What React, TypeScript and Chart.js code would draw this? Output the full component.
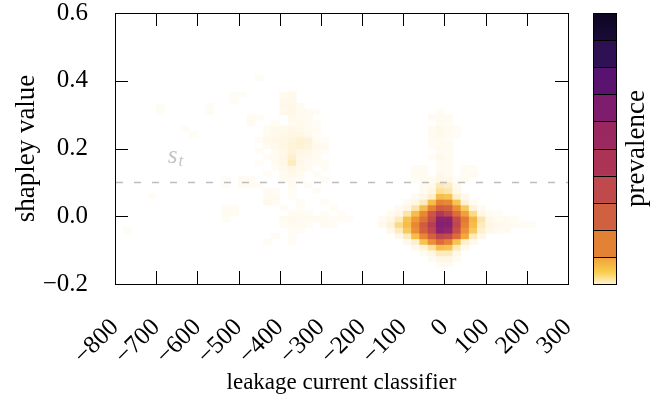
import React, { useEffect, useRef } from "react";
import { Chart, registerables } from "chart.js";

Chart.register(...registerables);

// Axis ranges and tick steps
const X_MIN = -800;
const X_MAX = 300;
const X_STEP = 100;
const Y_MIN = -0.2;
const Y_MAX = 0.6;
const Y_STEP = 0.2;

// 2-D histogram binning: classifier output in bins of 20, shapley value in bins of 1/60
const BIN_W = 20;
const BIN_H = 1 / 60;

// decision threshold on the shapley value
const THRESHOLD = 0.1;
const THRESHOLD_LABEL_AT = [-672, 0.157];

// Histogram rows: [row index (from Y_MIN), left edge of first bin, prevalence per bin]
const coreRows: [number, number, number[]][] = [
  [3, -20, [3, 3]],
  [4, -40, [3, 6, 6, 3]],
  [5, -60, [3, 6, 12, 12, 5]],
  [6, -80, [4, 8, 16, 28, 26, 12, 4]],
  [7, -100, [4, 10, 26, 40, 50, 44, 26, 10, 4]],
  [8, -120, [5, 12, 28, 42, 54, 64, 62, 50, 34, 12, 5]],
  [9, -140, [5, 12, 24, 40, 54, 64, 80, 78, 60, 40, 24, 10, 5, 3, 3]],
  [10, -160, [4, 8, 18, 28, 42, 56, 68, 82, 81, 64, 44, 28, 12, 6, 4, 3, 3, 2, 2]],
  [11, -160, [3, 6, 12, 26, 38, 48, 62, 80, 80, 62, 46, 30, 14, 5, 3, 3, 2]],
  [12, -140, [3, 6, 14, 28, 42, 58, 70, 64, 50, 36, 18, 6, 3, 2]],
  [13, -120, [3, 6, 14, 28, 44, 56, 54, 40, 24, 8, 3]],
  [14, -100, [3, 6, 12, 28, 44, 42, 26, 8, 3]],
  [15, -80, [3, 5, 10, 28, 26, 10, 4]],
  [16, -60, [3, 6, 16, 14, 5]],
  [17, -60, [3, 4, 13, 11, 4]],
  [18, -80, [2, 3, 3, 6, 5, 2, 3]],
  [19, -80, [3, 3, 0, 4, 3, 0, 2, 3]],
  [20, -80, [2, 3, 0, 3, 3, 0, 3, 2]],
  [21, -40, [0, 3, 3]],
  [22, -40, [2, 4, 3]],
  [23, -20, [3, 2]],
  [24, -40, [2, 3, 3]],
  [25, -40, [3, 3, 2]],
  [26, -40, [3, 4, 3, 2]],
  [27, -40, [3, 4, 3, 2]],
  [28, -20, [3, 2]],
  [29, -40, [3, 3, 3]],
  [30, -20, [2]],
];

const sideRows: [number, number, number[]][] = [
  [7, -440, [2, 0, 0, 2]],
  [8, -420, [2, 0, 2]],
  [9, -780, [2]],
  [9, -380, [2, 2]],
  [10, -400, [2, 3, 3, 2, 0, 3, 2]],
  [11, -540, [2, 0, 0, 0, 0, 0, 0, 3, 4, 3, 3, 3, 3, 2, 2, 2]],
  [12, -540, [3, 3, 0, 0, 0, 0, 0, 0, 3, 3, 2, 0, 2, 0, 2]],
  [13, -540, [2, 3, 0, 0, 0, 0, 0, 2, 0, 2, 0, 0, 0, 2]],
  [14, -440, [4, 3, 0, 0, 2, 0, 0, 2]],
  [15, -720, [2]],
  [15, -440, [3, 3, 0, 2]],
  [16, -440, [3, 2, 0, 2, 0, 0, 2]],
  [17, -540, [2, 0, 3, 3, 2, 0, 0, 0, 3, 0, 2]],
  [18, -540, [2, 0, 3, 3, 0, 0, 0, 3, 3, 2, 0, 0, 2]],
  [19, -440, [2, 0, 3, 4, 3, 0, 2]],
  [20, -420, [2, 4, 6, 4, 3, 0, 2]],
  [21, -460, [2, 0, 3, 5, 12, 5, 3, 2, 2]],
  [22, -440, [2, 3, 6, 10, 5, 4, 3]],
  [23, -460, [2, 0, 3, 5, 8, 6, 5, 3, 2]],
  [24, -440, [3, 4, 6, 8, 9, 7, 4, 3]],
  [25, -460, [2, 4, 5, 6, 7, 9, 8, 3, 2]],
  [26, -620, [2, 0, 0, 0, 0, 0, 0, 0, 0, 3, 4, 5, 6, 6, 4, 2]],
  [27, -640, [2, 0, 0, 0, 0, 0, 0, 0, 0, 0, 3, 4, 4, 5, 4, 3, 3]],
  [28, -480, [3, 0, 0, 2, 0, 3, 4, 3, 2]],
  [29, -480, [3, 2, 0, 0, 0, 4, 3, 3]],
  [30, -700, [2, 0, 0, 0, 0, 0, 2, 0, 0, 0, 0, 0, 0, 0, 0, 4, 5, 3, 3, 2]],
  [31, -700, [2, 0, 0, 0, 0, 0, 2, 0, 0, 0, 0, 0, 0, 0, 0, 5, 5, 3]],
  [32, -520, [2, 0, 0, 0, 0, 0, 4, 4]],
  [33, -520, [2, 2, 0, 0, 0, 0, 3, 4]],
  [36, -460, [2]],
];

// Reversed "inferno"-like ramp used for prevalence (0..100)
const RAMP: [number, number[]][] = [
  [0, [255, 255, 255]],
  [2, [255, 252, 246]],
  [4, [255, 249, 236]],
  [8, [254, 243, 218]],
  [12, [253, 235, 192]],
  [18, [251, 218, 135]],
  [26, [247, 196, 80]],
  [34, [242, 168, 58]],
  [42, [233, 136, 52]],
  [50, [220, 108, 56]],
  [58, [204, 86, 65]],
  [66, [186, 66, 80]],
  [74, [164, 48, 96]],
  [80, [140, 33, 110]],
  [88, [110, 25, 112]],
  [94, [70, 16, 104]],
  [100, [12, 8, 38]],
];

// Colour bar bands, top to bottom: [top colour, bottom colour]
const COLORBAR_BANDS: [string, string][] = [
  ["#0a0620", "#1a0c38"],
  ["#2c1050", "#301255"],
  ["#57136f", "#5a1470"],
  ["#7c1c6d", "#801d6d"],
  ["#98285f", "#9a2960"],
  ["#aa3357", "#ac3456"],
  ["#bf494c", "#c04a4b"],
  ["#cf6040", "#d0613f"],
  ["#e28034", "#e38234"],
  ["#efa03a", "#fff4cc"],
];

const FONT = "'Liberation Serif', 'Times New Roman', serif";
const TICK_FONT_SIZE = 25;
const X_TITLE_FONT_SIZE = 23;
const Y_TITLE_FONT_SIZE = 27;

function rampColor(v: number): string {
  const t = Math.max(0, Math.min(100, v));
  for (let i = 1; i < RAMP.length; i++) {
    const [v1, c1] = RAMP[i];
    const [v0, c0] = RAMP[i - 1];
    if (t <= v1) {
      const f = (t - v0) / (v1 - v0);
      const c = c0.map((a, k) => Math.round(a + (c1[k] - a) * f));
      return `rgb(${c[0]},${c[1]},${c[2]})`;
    }
  }
  return "rgb(12,8,38)";
}

function minusFormat(v: number, digits: number): string {
  const s = Math.abs(v).toFixed(digits);
  return v < -1e-9 ? "\u2212" + s : s;
}

const TICK_LEN = 13;

const framePlugin = {
  id: "frameTicks",
  afterDraw(chart: any) {
    const { ctx, chartArea: a, scales } = chart;
    const x = scales.x;
    const y = scales.y;
    ctx.save();
    ctx.strokeStyle = "#000";
    ctx.lineWidth = 1;
    ctx.beginPath();
    for (const t of x.ticks) {
      const px = Math.round(x.getPixelForValue(t.value)) + 0.5;
      ctx.moveTo(px, a.bottom);
      ctx.lineTo(px, a.bottom - TICK_LEN);
      ctx.moveTo(px, a.top);
      ctx.lineTo(px, a.top + TICK_LEN);
    }
    for (const t of y.ticks) {
      const py = Math.round(y.getPixelForValue(t.value)) + 0.5;
      ctx.moveTo(a.left, py);
      ctx.lineTo(a.left + TICK_LEN, py);
      ctx.moveTo(a.right, py);
      ctx.lineTo(a.right - TICK_LEN, py);
    }
    ctx.stroke();
    ctx.strokeRect(
      Math.round(a.left) + 0.5,
      Math.round(a.top) + 0.5,
      Math.round(a.right - a.left),
      Math.round(a.bottom - a.top)
    );

    // colour bar
    const cbLeft = Math.round(a.right) + 25;
    const cbWidth = 23;
    const top = Math.round(a.top);
    const bottom = Math.round(a.bottom);
    const bandH = (bottom - top) / COLORBAR_BANDS.length;
    COLORBAR_BANDS.forEach(([c0, c1], i) => {
      const y0 = top + i * bandH;
      const g = ctx.createLinearGradient(0, y0, 0, y0 + bandH);
      g.addColorStop(0, c0);
      if (i === COLORBAR_BANDS.length - 1) g.addColorStop(0.55, "#f8cc4c");
      g.addColorStop(1, c1);
      ctx.fillStyle = g;
      ctx.fillRect(cbLeft, y0, cbWidth, bandH + 0.5);
    });
    ctx.beginPath();
    for (let i = 1; i < COLORBAR_BANDS.length; i++) {
      const py = Math.round(top + i * bandH) + 0.5;
      ctx.moveTo(cbLeft, py);
      ctx.lineTo(cbLeft + cbWidth, py);
    }
    ctx.stroke();
    ctx.strokeRect(cbLeft + 0.5, top + 0.5, cbWidth, bottom - top);

    ctx.fillStyle = "#000";
    ctx.font = `${Y_TITLE_FONT_SIZE}px ${FONT}`;
    ctx.textAlign = "center";
    ctx.textBaseline = "middle";
    ctx.translate(cbLeft + cbWidth + 21, (top + bottom) / 2);
    ctx.rotate(-Math.PI / 2);
    ctx.fillText("prevalence", 0, 0);
    ctx.restore();
  },
};

const thresholdPlugin = {
  id: "threshold",
  afterDatasetsDraw(chart: any) {
    const { ctx, chartArea: a, scales } = chart;
    const py = Math.round(scales.y.getPixelForValue(THRESHOLD)) + 0.5;
    ctx.save();
    ctx.strokeStyle = "#bdbdbd";
    ctx.lineWidth = 1.3;
    ctx.setLineDash([7, 11]);
    ctx.beginPath();
    ctx.moveTo(a.left + 1, py);
    ctx.lineTo(a.right, py);
    ctx.stroke();
    ctx.setLineDash([]);
    const lx = scales.x.getPixelForValue(THRESHOLD_LABEL_AT[0]);
    const ly = scales.y.getPixelForValue(THRESHOLD_LABEL_AT[1]);
    ctx.fillStyle = "#c4c4c4";
    ctx.textBaseline = "alphabetic";
    ctx.textAlign = "left";
    ctx.font = `italic 25px ${FONT}`;
    ctx.fillText("s", lx, ly);
    const w = ctx.measureText("s").width;
    ctx.font = `italic 17px ${FONT}`;
    ctx.fillText("t", lx + w + 1, ly + 3);
    ctx.restore();
  },
};

export default function App() {
  const canvasRef = useRef<HTMLCanvasElement | null>(null);

  useEffect(() => {
    const canvas = canvasRef.current;
    if (!canvas) return;

    const cells: { x: number; y: [number, number] }[] = [];
    const colors: string[] = [];
    for (const [row, start, values] of [...sideRows, ...coreRows]) {
      values.forEach((v, i) => {
        if (v <= 0) return;
        const x0 = start + i * BIN_W;
        const y0 = Y_MIN + row * BIN_H;
        cells.push({ x: x0 + BIN_W / 2, y: [y0, y0 + BIN_H] });
        colors.push(rampColor(v));
      });
    }

    const chart = new Chart(canvas, {
      type: "bar",
      data: {
        datasets: [
          {
            data: cells as any,
            backgroundColor: colors,
            borderWidth: 0,
            barPercentage: 1,
            categoryPercentage: 1,
            grouped: false,
          } as any,
        ],
      },
      options: {
        animation: false,
        responsive: false,
        events: [],
        layout: { padding: { left: 0, top: 13, right: 93, bottom: 0 } },
        plugins: {
          legend: { display: false },
          tooltip: { enabled: false },
        },
        scales: {
          x: {
            type: "linear",
            min: X_MIN,
            max: X_MAX,
            offset: false,
            grid: { display: false, drawTicks: false },
            border: { display: false },
            ticks: {
              stepSize: X_STEP,
              autoSkip: false,
              minRotation: 45,
              maxRotation: 45,
              padding: 29,
              color: "#000",
              font: { family: FONT, size: TICK_FONT_SIZE },
              callback: (v: any) => minusFormat(Number(v), 0),
            },
            title: {
              display: true,
              text: "leakage current classifier",
              color: "#000",
              font: { family: FONT, size: X_TITLE_FONT_SIZE },
              padding: { top: 0, bottom: 7 },
            },
            afterFit: (s: any) => {
              s.height = 120;
              s.paddingLeft = 0;
              s.paddingRight = 0;
            },
          } as any,
          y: {
            type: "linear",
            min: Y_MIN,
            max: Y_MAX,
            grid: { display: false, drawTicks: false },
            border: { display: false },
            ticks: {
              stepSize: Y_STEP,
              padding: 27,
              color: "#000",
              font: { family: FONT, size: TICK_FONT_SIZE },
              callback: (v: any) => minusFormat(Number(v), 1),
            },
            title: {
              display: true,
              text: "shapley value",
              color: "#000",
              font: { family: FONT, size: Y_TITLE_FONT_SIZE },
              padding: { top: 11, bottom: 0 },
            },
            afterFit: (s: any) => {
              s.width = 115;
              s.paddingTop = 0;
              s.paddingBottom = 0;
            },
          } as any,
        },
      },
      plugins: [thresholdPlugin, framePlugin],
    });

    return () => chart.destroy();
  }, []);

  return (
    <div style={{ position: "fixed", left: 0, top: 0, width: 661, height: 404, background: "#fff" }}>
      <canvas ref={canvasRef} width={661} height={404} style={{ display: "block" }} />
    </div>
  );
}
